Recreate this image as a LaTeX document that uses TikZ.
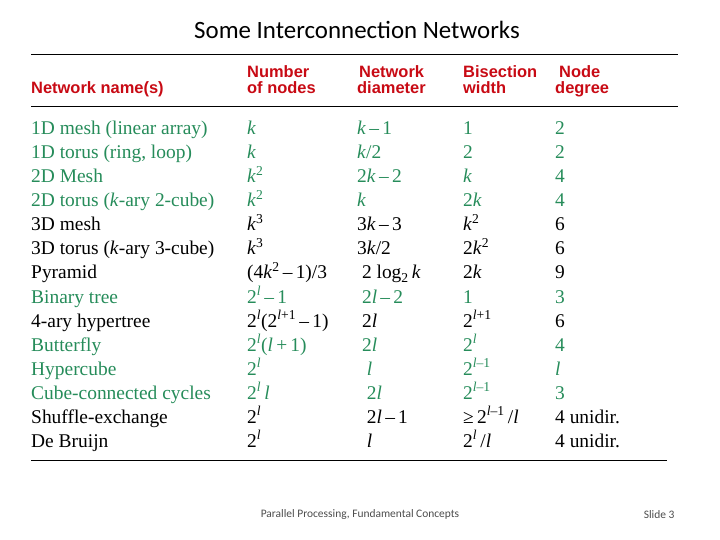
\documentclass[tikz,border=0pt]{standalone}
\usepackage{fontspec}
\setmainfont{Liberation Serif}
\newfontfamily\hdfont{Liberation Sans}
\newfontfamily\calfont{Carlito}
\definecolor{grn}{RGB}{38,140,90}
\definecolor{hred}{RGB}{200,10,20}
\newcommand{\K}{\textit{k}}
\newcommand{\Ll}{\textit{l}}
\newcommand{\sq}[1]{\textsuperscript{#1}}
\newcommand{\trow}[7]{%
  \pgfmathsetmacro{\yy}{135+24*(#1-1)}%
  \node[cell,text=#2] (n#1) at (31,\yy) {#3};
  \node[cell,text=#2] (a#1) at (247,\yy) {#4};
  \node[cell,text=#2] (b#1) at (357,\yy) {#5};
  \node[cell,text=#2] (c#1) at (463,\yy) {#6};
  \node[cell,text=#2] (d#1) at (555,\yy) {#7};}
\begin{document}
\begin{tikzpicture}[x=1bp,y=-1bp,
  cell/.style={anchor=base west,inner sep=0pt,font=\fontsize{19.5}{19.5}\selectfont},
  hd/.style={anchor=base west,inner sep=0pt,text=hred,font=\hdfont\bfseries\fontsize{16.5}{16.5}\selectfont},
  rule/.style={line width=0.8pt}]
\useasboundingbox (0,0) rectangle (720,540);
\node[font=\calfont\fontsize{25}{25}\selectfont] (title) at (357,30) {Some Interconnection Networks};
\coordinate (l1a) at (31,54); \coordinate (l1b) at (678,54);
\coordinate (l2a) at (31,106); \coordinate (l2b) at (678,106);
\coordinate (l3a) at (31,460); \coordinate (l3b) at (667,460);
\draw[rule] (l1a) -- (l1b); \draw[rule] (l2a) -- (l2b); \draw[rule] (l3a) -- (l3b);
\node[hd] (h1) at (31,94) {Network name(s)};
\node[hd] (h2a) at (247,78) {Number};
\node[hd] (h2b) at (247,94) {of nodes};
\node[hd] (h3a) at (359,78) {Network};
\node[hd] (h3b) at (357,94) {diameter};
\node[hd] (h4a) at (463,78) {Bisection};
\node[hd] (h4b) at (463,94) {width};
\node[hd] (h5a) at (559,78) {Node};
\node[hd] (h5b) at (555,94) {degree};
\trow{1}{grn}{1D mesh (linear array)}{\K}{\K\,–\,1}{1}{2}
\trow{2}{grn}{1D torus (ring, loop)}{\K}{\K/2}{2}{2}
\trow{3}{grn}{2D Mesh}{\K\sq{2}}{2\K\,–\,2}{\K}{4}
\trow{4}{grn}{2D torus (\K-ary 2-cube)}{\K\sq{2}}{\K}{2\K}{4}
\trow{5}{black}{3D mesh}{\K\sq{3}}{3\K\,–\,3}{\K\sq{2}}{6}
\trow{6}{black}{3D torus (\K-ary 3-cube)}{\K\sq{3}}{3\K/2}{2\K\sq{2}}{6}
\trow{7}{black}{Pyramid}{(4\K\sq{2}\,–\,1)/3}{\ 2 log\textsubscript{2}\,\K}{2\K}{9}
\trow{8}{grn}{Binary tree}{2\sq{\Ll}\,–\,1}{\ 2\Ll\,–\,2}{1}{3}
\trow{9}{black}{4-ary hypertree}{2\sq{\Ll}(2\sq{\Ll+1}\,–\,1)}{\ 2\Ll}{2\sq{\Ll+1}}{6}
\trow{10}{grn}{Butterfly}{2\sq{\Ll}(\Ll\,+\,1)}{\ 2\Ll}{2\sq{\Ll}}{4}
\trow{11}{grn}{Hypercube}{2\sq{\Ll}}{\ \ \Ll}{2\sq{\Ll–1}}{\Ll}
\trow{12}{grn}{Cube-connected cycles}{2\sq{\Ll}\,\Ll}{\ \ 2\Ll}{2\sq{\Ll–1}}{3}
\trow{13}{black}{Shuffle-exchange}{2\sq{\Ll}}{\ \ 2\Ll\,–\,1}{≥\,2\sq{\Ll–1}\,/\Ll}{4 unidir.}
\trow{14}{black}{De Bruijn}{2\sq{\Ll}}{\ \ \Ll}{2\sq{\Ll}\,/\Ll}{4 unidir.}
\node[font=\calfont\fontsize{11.5}{11.5}\selectfont,text=black!70] (foot) at (360,515) {Parallel Processing, Fundamental Concepts};
\node[font=\calfont\fontsize{11.5}{11.5}\selectfont,text=black!70,anchor=east] (slide) at (678,515) {Slide 3};
\end{tikzpicture}
\end{document}
